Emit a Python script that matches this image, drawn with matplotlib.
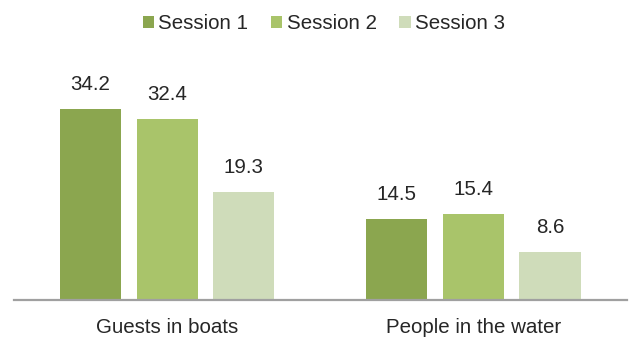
import matplotlib
matplotlib.use("Agg")
import matplotlib.pyplot as plt
from matplotlib.patches import Patch
import numpy as np

categories = ["Guests in boats", "People in the water"]
series = ["Session 1", "Session 2", "Session 3"]
session1 = [34.2, 14.5]
session2 = [32.4, 15.4]
session3 = [19.3, 8.6]
colors = ["#8BA64F", "#A9C46A", "#CFDCBA"]

plt.rcParams["font.family"] = ["Liberation Sans", "DejaVu Sans"]
txt = "#262626"
fs = 14.8

fig = plt.figure(figsize=(6.29, 3.38), dpi=100)
ax = fig.add_axes([14 / 629, 38 / 338, 612.5 / 629, 251 / 338])

x = np.arange(len(categories))
w = 0.2
for i, (vals, c) in enumerate(zip([session1, session2, session3], colors)):
    pos = x + (i - 1) * 0.25
    ax.bar(pos, vals, w, color=c, zorder=2)
    for p, v in zip(pos, vals):
        ax.annotate(f"{v}", (p, v), xytext=(0, 18), textcoords="offset points",
                    ha="center", va="center", fontsize=fs, color=txt)

ax.set_xlim(-0.5, 1.5)
ax.set_ylim(0, 45)
ax.set_xticks(x)
ax.set_xticklabels(categories, fontsize=fs, color=txt)
ax.tick_params(axis="x", length=0, pad=13)
ax.set_yticks([])
for s in ["top", "right", "left"]:
    ax.spines[s].set_visible(False)
ax.spines["bottom"].set_color("#A0A0A0")
ax.spines["bottom"].set_linewidth(1.6)

handles = [Patch(facecolor=c, edgecolor="none") for c in colors]
leg = fig.legend(handles, series, loc="center", bbox_to_anchor=(0.515, 0.929),
                 ncol=3, frameon=False, fontsize=fs, handlelength=0.55,
                 handleheight=0.55, handletextpad=0.22, columnspacing=1.1)
for t in leg.get_texts():
    t.set_color(txt)

fig.savefig("out.png", dpi=100)
